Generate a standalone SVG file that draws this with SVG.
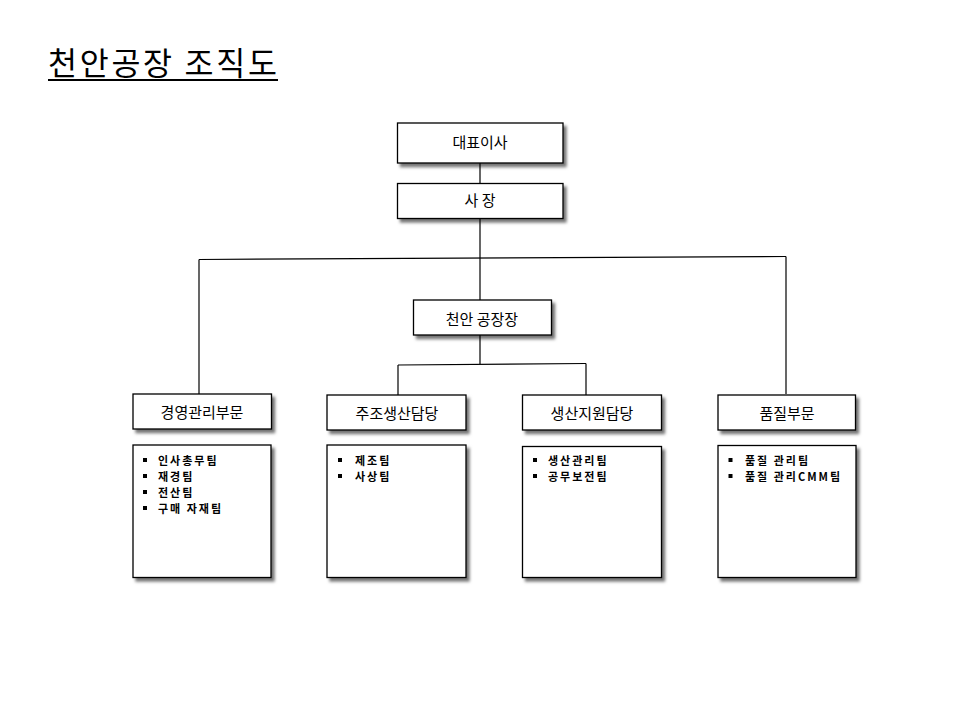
<svg xmlns="http://www.w3.org/2000/svg" width="960" height="720" viewBox="0 0 960 720">
<defs>
<filter id="sh" x="-10%" y="-10%" width="130%" height="140%">
<feDropShadow dx="3" dy="3.5" stdDeviation="1.6" flood-color="#000" flood-opacity="0.55"/>
</filter>
</defs>
<style>
.box{fill:#fff;stroke:#000;stroke-width:1.3;filter:url(#sh)}
.lbl{font-family:"Noto Sans CJK KR","Noto Sans",sans-serif;font-size:15px;fill:#000;text-anchor:middle}
.item{font-family:"Noto Sans CJK KR","Noto Sans",sans-serif;font-size:11px;font-weight:bold;fill:#000;letter-spacing:2px}
.bul{fill:#000}
.con{stroke:#000;stroke-width:1.2;fill:none}
.title{font-family:"Noto Sans CJK KR","Noto Sans",sans-serif;font-size:31.5px;fill:#000}
</style>
<rect width="960" height="720" fill="#fff"/>
<g id="title">
<text class="title" x="48" y="75" textLength="229" lengthAdjust="spacing">천안공장 조직도</text>
<line x1="48" y1="80" x2="278" y2="80" stroke="#000" stroke-width="2"/>
</g>
<g id="connectors">
<line class="con" x1="480" y1="163" x2="480" y2="183"/>
<line class="con" x1="480" y1="218" x2="480" y2="300"/>
<line class="con" x1="199" y1="259.5" x2="786" y2="256.5"/>
<line class="con" x1="199" y1="259.5" x2="199" y2="394"/>
<line class="con" x1="786" y1="256.5" x2="786" y2="394"/>
<line class="con" x1="480" y1="335" x2="480" y2="364"/>
<line class="con" x1="398" y1="365" x2="586" y2="363.5"/>
<line class="con" x1="398" y1="365" x2="398" y2="395"/>
<line class="con" x1="586" y1="363.5" x2="586" y2="395"/>
</g>
<g id="ceo">
<rect class="box" x="397.5" y="123" width="165.5" height="40"/>
<text class="lbl" x="480" y="148">대표이사</text>
</g>
<g id="president">
<rect class="box" x="397.5" y="183.5" width="165.5" height="35"/>
<text class="lbl" x="480" y="205.5">사 장</text>
</g>
<g id="plant-manager">
<rect class="box" x="413.5" y="300" width="138" height="35"/>
<text class="lbl" x="482" y="324.5">천안 공장장</text>
</g>
<g id="dept1">
<rect class="box" x="133" y="394" width="138.5" height="35"/>
<text class="lbl" x="202" y="418">경영관리부문</text>
</g>
<g id="dept2">
<rect class="box" x="327" y="395" width="139" height="35"/>
<text class="lbl" x="397" y="418.5">주조생산담당</text>
</g>
<g id="dept3">
<rect class="box" x="522.5" y="395" width="139" height="35"/>
<text class="lbl" x="592" y="418.5">생산지원담당</text>
</g>
<g id="dept4">
<rect class="box" x="718" y="395" width="137.5" height="35"/>
<text class="lbl" x="787" y="418.5">품질부문</text>
</g>
<g id="teams1">
<rect class="box" x="133" y="445" width="138" height="132.5"/>
<rect class="bul" x="143" y="458" width="4" height="4"/>
<rect class="bul" x="143" y="474" width="4" height="4"/>
<rect class="bul" x="143" y="490" width="4" height="4"/>
<rect class="bul" x="143" y="506" width="4" height="4"/>
<text class="item" x="158" y="464.5">인사총무팀</text>
<text class="item" x="158" y="480.5">재경팀</text>
<text class="item" x="158" y="496.5">전산팀</text>
<text class="item" x="158" y="512.5">구매 자재팀</text>
</g>
<g id="teams2">
<rect class="box" x="327" y="445" width="139" height="132.5"/>
<rect class="bul" x="338" y="458" width="4" height="4"/>
<rect class="bul" x="338" y="474" width="4" height="4"/>
<text class="item" x="355" y="464.5">제조팀</text>
<text class="item" x="355" y="480.5">사상팀</text>
</g>
<g id="teams3">
<rect class="box" x="522.5" y="446.5" width="139" height="131"/>
<rect class="bul" x="533" y="458" width="4" height="4"/>
<rect class="bul" x="533" y="474" width="4" height="4"/>
<text class="item" x="548" y="464.5">생산관리팀</text>
<text class="item" x="548" y="480.5">공무보전팀</text>
</g>
<g id="teams4">
<rect class="box" x="718" y="445.5" width="138" height="132"/>
<rect class="bul" x="728.5" y="458" width="4" height="4"/>
<rect class="bul" x="728.5" y="474" width="4" height="4"/>
<text class="item" x="745" y="464.5">품질 관리팀</text>
<text class="item" x="745" y="480.5">품질 관리CMM팀</text>
</g>
</svg>
